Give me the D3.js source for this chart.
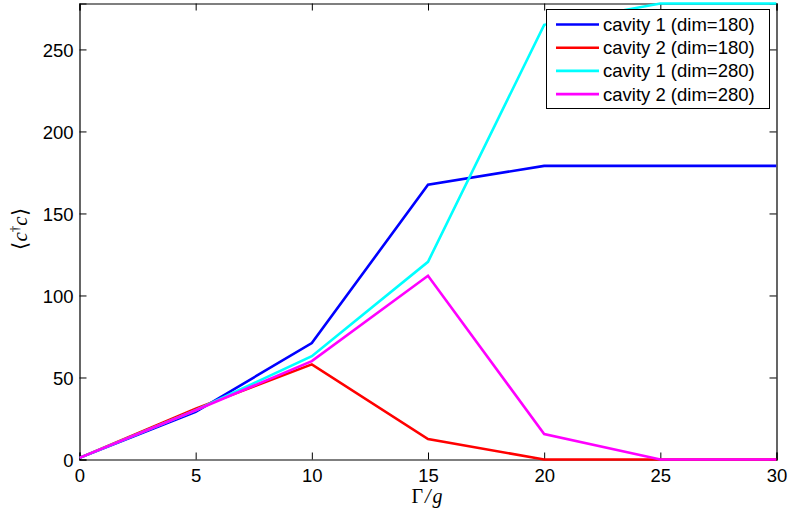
<!DOCTYPE html>
<html><head><meta charset="utf-8">
<script src="https://cdn.jsdelivr.net/npm/d3@7"></script>
<style>body{margin:0;background:#fff}svg{display:block}</style>
</head><body><svg id="c" width="788" height="521"></svg>
<script>
const xValues = [0, 5, 10, 15, 20, 25, 30];
const cav1dim180 = [1, 29, 71, 167.5, 179, 179, 179];
const cav2dim180 = [1, 31, 58, 12.5, 0, 0, 0];
const cav1dim280 = [1, 30, 63, 120.5, 265, 278, 278];
const cav2dim280 = [1, 30, 60, 112, 15.5, 0, 0];
const seriesNames = ["cavity 1 (dim=180)", "cavity 2 (dim=180)", "cavity 1 (dim=280)", "cavity 2 (dim=280)"];
const seriesColors = ["#0000ff", "#ff0000", "#00ffff", "#ff00ff"];
const xTicks = [0, 5, 10, 15, 20, 25, 30];
const yTicks = [0, 50, 100, 150, 200, 250];

const series = [cav1dim180, cav2dim180, cav1dim280, cav2dim280];
const svg = d3.select("#c");
const L = 79.5, R = 776.5, T = 3.5, B = 459.5;
const x = d3.scaleLinear().domain([0, 30]).range([L, R]);
const y = d3.scaleLinear().domain([0, 278]).range([B, T]);
const font = "'Liberation Sans', Arial, Helvetica, sans-serif";

svg.append("defs").append("clipPath").attr("id", "clip")
  .append("rect").attr("x", L).attr("y", T - 1.5).attr("width", R - L).attr("height", B - T + 3);

// axes
const gx = svg.append("g").attr("transform", `translate(0,${B})`)
  .call(d3.axisBottom(x).tickValues(xTicks).tickSize(-7).tickPadding(9).tickFormat(d3.format("d")));
const gxt = svg.append("g").attr("transform", `translate(0,${T})`)
  .call(d3.axisTop(x).tickValues(xTicks).tickSize(-7).tickFormat(""));
const gy = svg.append("g").attr("transform", `translate(${L},0)`)
  .call(d3.axisLeft(y).tickValues(yTicks).tickSize(-7).tickPadding(6).tickFormat(d3.format("d")));
const gyr = svg.append("g").attr("transform", `translate(${R},0)`)
  .call(d3.axisRight(y).tickValues(yTicks).tickSize(-7).tickFormat(""));
[gx, gxt, gy, gyr].forEach(g => {
  g.select(".domain").attr("stroke", "#000").attr("stroke-width", 1.2);
  g.selectAll(".tick line").attr("stroke", "#000").attr("stroke-width", 1);
  g.selectAll("text").attr("font-family", font).attr("font-size", 18.5).attr("fill", "#000");
});
gx.selectAll("text").attr("dy", "0.71em");
gy.selectAll("text").attr("dy", "0.36em");

// lines
const line = d3.line().x((d, i) => x(xValues[i])).y(d => y(d));
const gl = svg.append("g").attr("clip-path", "url(#clip)");
series.forEach((s, k) => {
  gl.append("path").datum(s).attr("d", line).attr("fill", "none")
    .attr("stroke", seriesColors[k]).attr("stroke-width", 2.6).attr("stroke-linejoin", "miter");
});

// legend
const lg = svg.append("g");
lg.append("rect").attr("x", 546.5).attr("y", 9.5).attr("width", 223).attr("height", 99)
  .attr("fill", "#fff").attr("stroke", "#000").attr("stroke-width", 1);
seriesNames.forEach((n, k) => {
  const yy = 24.5 + k * 23.2;
  lg.append("line").attr("x1", 556).attr("x2", 599).attr("y1", yy).attr("y2", yy)
    .attr("stroke", seriesColors[k]).attr("stroke-width", 2.6);
  lg.append("text").attr("x", 603).attr("y", yy).attr("dy", "0.35em")
    .attr("font-family", font).attr("font-size", 18.5).attr("fill", "#000").text(n);
});

// axis labels
const serif = "'Liberation Serif', 'Times New Roman', serif";
const xl = svg.append("text").attr("x", 427).attr("y", 503).attr("text-anchor", "middle")
  .attr("font-family", serif).attr("font-size", 20).attr("fill", "#000");
xl.append("tspan").text("Γ");
xl.append("tspan").attr("font-style", "italic").attr("dx", 2).text("/");
xl.append("tspan").attr("font-style", "italic").attr("dx", 2).text("g");

const yl = svg.append("text").attr("transform", "translate(27,229) rotate(-90)").attr("text-anchor", "middle")
  .attr("font-family", serif).attr("font-size", 21).attr("fill", "#000");
yl.append("tspan").text("⟨");
yl.append("tspan").attr("font-style", "italic").text("c");
yl.append("tspan").attr("font-size", 13).attr("dy", -8).text("†");
yl.append("tspan").attr("font-style", "italic").attr("dy", 8).text("c");
yl.append("tspan").text("⟩");
</script></body></html>
